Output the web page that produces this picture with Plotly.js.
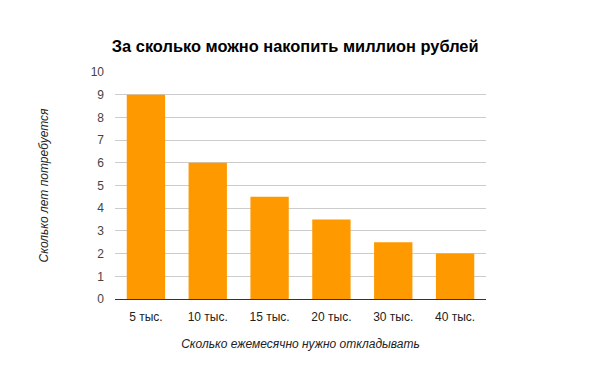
<!DOCTYPE html>
<html>
<head>
<meta charset="utf-8">
<script src="https://cdn.plot.ly/plotly-3.0.1.min.js"></script>
<style>html,body{margin:0;padding:0;background:#fff;}#chart{width:600px;height:371px;}</style>
</head>
<body>
<div id="chart"></div>
<script>
const categories = ["5 тыс.", "10 тыс.", "15 тыс.", "20 тыс.", "30 тыс.", "40 тыс."];
const years = [9, 6, 4.5, 3.5, 2.5, 2];
const yTicks = [0, 1, 2, 3, 4, 5, 6, 7, 8, 9, 10];

const trace = {
  type: "bar",
  x: categories,
  y: years,
  marker: {color: "#FF9900"},
  hoverinfo: "none"
};

const layout = {
  width: 600,
  height: 371,
  margin: {l: 115, r: 114, t: 72, b: 72},
  paper_bgcolor: "#fff",
  plot_bgcolor: "#fff",
  bargap: 0.38,
  font: {family: "Arial, 'Liberation Sans', sans-serif", size: 12, color: "#444"},
  title: {
    text: "<b>За сколько можно накопить миллион рублей</b>",
    font: {family: "Arial, 'Liberation Sans', sans-serif", size: 16.4, color: "#000"},
    x: 0.492, xanchor: "center",
    y: 0.876, yanchor: "middle"
  },
  xaxis: {
    type: "category",
    showgrid: false,
    showline: true,
    linecolor: "#333",
    linewidth: 1,
    ticks: "",
    ticklabelstandoff: 7,
    tickfont: {size: 12, color: "#222"},
    title: {
      text: "<i>Сколько ежемесячно нужно откладывать</i>",
      font: {size: 12, color: "#222"},
      standoff: 16
    }
  },
  yaxis: {
    range: [0, 10],
    tickvals: yTicks,
    ticktext: yTicks.map(String),
    showgrid: true,
    gridcolor: "#ccc",
    zeroline: false,
    showline: false,
    ticks: "",
    ticklabelstandoff: 10,
    tickfont: {size: 12, color: "#444"},
    title: {
      text: "<i>Сколько лет потребуется</i>",
      font: {size: 12, color: "#222"},
      standoff: 39
    }
  },
  showlegend: false
};

Plotly.newPlot("chart", [trace], layout, {displayModeBar: false, staticPlot: true});
</script>
</body>
</html>
